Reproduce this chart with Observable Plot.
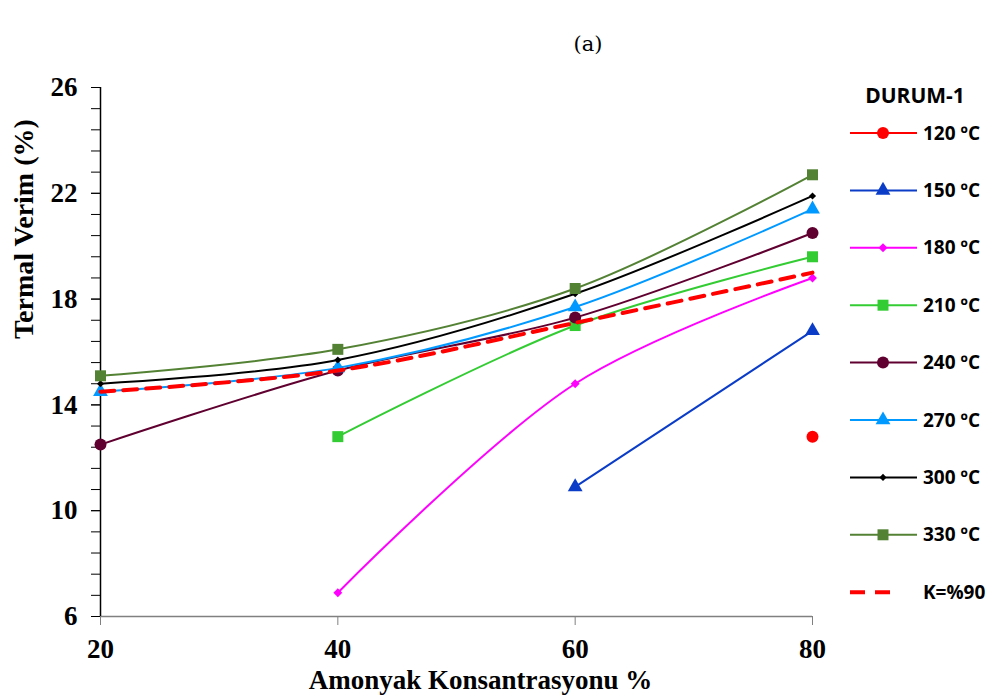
<!DOCTYPE html>
<html>
<head>
<meta charset="utf-8">
<script src="https://cdn.jsdelivr.net/npm/d3@7"></script>
<script src="https://cdn.jsdelivr.net/npm/@observablehq/plot@0.6"></script>
<style>
  html, body { margin: 0; padding: 0; background: #fff; }
  #wrap { position: relative; width: 988px; height: 700px; overflow: hidden; }
  #title { position: absolute; left: 0; top: 34px; width: 1176px; text-align: center; line-height: 1;
           font-family: "DejaVu Serif", "Liberation Serif", serif; font-size: 21px; color: #000; }
</style>
</head>
<body>
<div id="wrap">
  <div id="title">(a)</div>
</div>
<script>
// ---- data ----
const concentration = [20, 40, 60, 80];
const seriesNames = ["120 ºC", "150 ºC", "180 ºC", "210 ºC", "240 ºC", "270 ºC", "300 ºC", "330 ºC", "K=%90"];
const t120 = [null, null, null, 12.8];
const t150 = [null, null, 10.9, 16.8];
const t180 = [null, 6.9, 14.8, 18.8];
const t210 = [null, 12.8, 17.0, 19.6];
const t240 = [12.5, 15.3, 17.3, 20.5];
const t270 = [14.5, 15.4, 17.7, 21.4];
const t300 = [14.8, 15.7, 18.2, 21.9];
const t330 = [15.1, 16.1, 18.4, 22.7];
const k90  = [14.5, 15.3, 17.1, 19.0];
const yTicks = [6, 10, 14, 18, 22, 26];
const xTicks = [20, 40, 60, 80];
const legendTitle = "DURUM-1";
const xLabel = "Amonyak Konsantrasyonu %";
const yLabel = "Termal Verim (%)";

// ---- styles ----
const values = [t120, t150, t180, t210, t240, t270, t300, t330, k90];
const styles = [
  {color: "#FF0000", symbol: "circle", r: 6},
  {color: "#0A3CC8", symbol: "triangle", r: 5.5},
  {color: "#FF00FF", symbol: "diamond2", r: 4},
  {color: "#33CC33", symbol: "square", r: 6.2},
  {color: "#600030", symbol: "circle", r: 6},
  {color: "#0099FF", symbol: "triangle", r: 5.5},
  {color: "#000000", symbol: "diamond2", r: 3.2},
  {color: "#548235", symbol: "square", r: 6.2},
  {color: "#FF0000", symbol: null, r: 0, dash: "14,9", width: 4}
];

const rows = [];
seriesNames.forEach((name, i) => {
  values[i].forEach((v, j) => {
    if (v != null) rows.push({series: name, x: concentration[j], y: v});
  });
});

const marks = [];
// axes
marks.push(Plot.axisY(d3.range(6, 26.001, 0.8), {tickSize: 9, tickFormat: () => "", label: null, stroke: "#000", strokeWidth: 1}));
marks.push(Plot.axisY(yTicks, {tickSize: 9, tickPadding: 14, label: null, fontSize: 27, fontWeight: "bold", fill: "#000"}));
marks.push(Plot.axisX(xTicks, {tickSize: 9, tickPadding: 13, label: null, fontSize: 27, fontWeight: "bold", fill: "#000", stroke: "#808080"}));
marks.push(Plot.ruleY([6], {stroke: "#808080", strokeWidth: 1.5}));
marks.push(Plot.ruleX([20], {stroke: "#000", strokeWidth: 1.5}));
// series
seriesNames.forEach((name, i) => {
  const s = styles[i];
  const data = rows.filter(d => d.series === name);
  marks.push(Plot.line(data, {x: "x", y: "y", stroke: s.color, strokeWidth: s.width || 2,
    strokeDasharray: s.dash, curve: "catmull-rom"}));
  if (s.symbol) {
    marks.push(Plot.dot(data, {x: "x", y: "y", symbol: () => s.symbol, r: s.r, fill: s.color, stroke: "none"}));
  }
});
// axis titles
marks.push(Plot.text([yLabel], {frameAnchor: "left", rotate: -90, dx: -76, dy: -13, text: d => d,
  fontSize: 28, fontWeight: "bold", fill: "#000"}));
marks.push(Plot.text([xLabel], {frameAnchor: "bottom", dx: 24, dy: 72, text: d => d,
  fontSize: 27, fontWeight: "bold", fill: "#000"}));

const chart = Plot.plot({
  width: 988, height: 700,
  marginLeft: 100, marginRight: 176, marginTop: 87, marginBottom: 84,
  x: {domain: [20, 80]},
  y: {domain: [6, 26]},
  style: {fontFamily: "'Liberation Serif', 'Times New Roman', serif", background: "transparent", color: "#000"},
  marks
});
document.getElementById("wrap").appendChild(chart);

// ---- legend (drawn into the same SVG) ----
const symMap = {circle: d3.symbolCircle, triangle: d3.symbolTriangle, diamond2: d3.symbolDiamond2, square: d3.symbolSquare};
const svg = d3.select(chart);
const lg = svg.append("g").attr("font-family", "'Open Sans', Lato, sans-serif").attr("font-weight", "bold");
lg.append("text").attr("x", 915).attr("y", 96).attr("text-anchor", "middle").attr("dy", "0.35em")
  .attr("font-size", 21).attr("fill", "#000").text(legendTitle);
seriesNames.forEach((name, i) => {
  const s = styles[i];
  const y = 133 + i * 57.4;
  const g = lg.append("g").attr("transform", `translate(0,${y})`);
  if (s.dash) {
    g.append("line").attr("x1", 850).attr("x2", 900).attr("y1", 0).attr("y2", 0)
      .attr("stroke", s.color).attr("stroke-width", 4).attr("stroke-dasharray", "15,10");
  } else {
    g.append("line").attr("x1", 850).attr("x2", 917).attr("y1", 0).attr("y2", 0)
      .attr("stroke", s.color).attr("stroke-width", 2);
    g.append("path").attr("transform", "translate(883,0)")
      .attr("d", d3.symbol(symMap[s.symbol], Math.PI * s.r * s.r)()).attr("fill", s.color);
  }
  g.append("text").attr("x", 923).attr("y", 0).attr("dy", "0.35em").attr("text-anchor", "start")
    .attr("font-size", 19).attr("fill", "#000").text(name);
});
</script>
</body>
</html>
